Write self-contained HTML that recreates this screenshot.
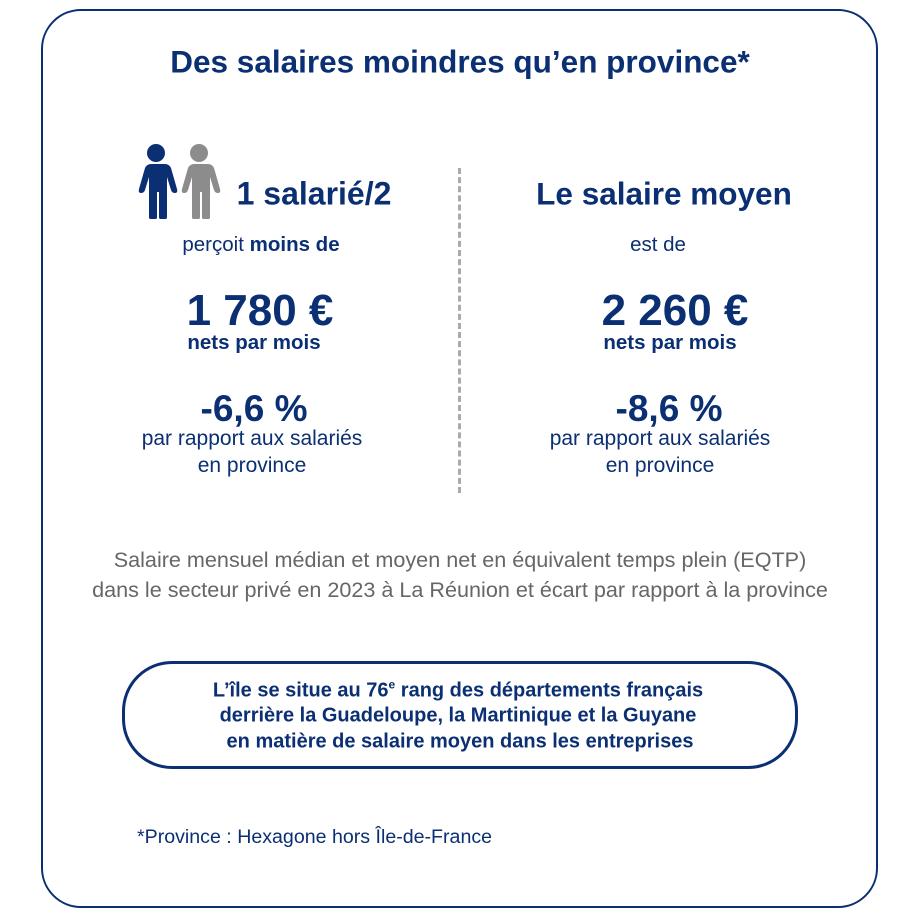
<!DOCTYPE html>
<html><head><meta charset="utf-8"><style>
body{margin:0;width:923px;height:909px;background:#fff;font-family:"Liberation Sans",sans-serif;color:#0b2f73;position:relative;overflow:hidden}
.box{position:absolute;left:41px;top:9px;width:837px;height:899px;border:2px solid #0b2f73;border-radius:40px;box-sizing:border-box}
.t{position:absolute;white-space:nowrap;transform:translate(-50%,-50%)}
.b{font-weight:bold}
.dash{position:absolute;left:458px;top:168px;height:325px;border-left:3px dashed #aaa}
.grey{color:#666}
.pill{position:absolute;left:122px;top:661px;width:676px;height:108px;border:3px solid #0b2f73;border-radius:50px;box-sizing:border-box}
</style></head><body>
<div class="box"></div>
<div class="t b" style="left:460px;top:62px;font-size:31.5px">Des salaires moindres qu’en province*</div>
<svg style="position:absolute;left:135px;top:143px" width="86" height="76" viewBox="0 0 86 76">
<g fill="#0b2f73"><circle cx="21" cy="10" r="9"/><path d="M12 21h18q4 0 6 4l6 21q1 4-2 4t-4-3l-4-13v40q0 3-4 3t-4-3V49h-2v25q0 3-4 3t-4-3V34l-4 13q-1 3-4 3t-2-4l6-21q2-4 6-4z"/></g>
<g fill="#8c8c8c" transform="translate(43,0)"><circle cx="21" cy="10" r="9"/><path d="M12 21h18q4 0 6 4l6 21q1 4-2 4t-4-3l-4-13v40q0 3-4 3t-4-3V49h-2v25q0 3-4 3t-4-3V34l-4 13q-1 3-4 3t-2-4l6-21q2-4 6-4z"/></g>
</svg>
<div class="t b" style="left:314px;top:194px;font-size:32px">1 salarié/2</div>
<div class="t" style="left:261px;top:245px;font-size:20.5px">perçoit <b>moins de</b></div>
<div class="t b" style="left:260px;top:311px;font-size:44px">1 780 €</div>
<div class="t b" style="left:254px;top:343px;font-size:20.5px">nets par mois</div>
<div class="t b" style="left:254px;top:409px;font-size:37px">-6,6 %</div>
<div class="t" style="left:252px;top:439px;font-size:21px">par rapport aux salariés</div>
<div class="t" style="left:252px;top:466px;font-size:21px">en province</div>
<div class="dash"></div>
<div class="t b" style="left:664px;top:194px;font-size:31.5px">Le salaire moyen</div>
<div class="t" style="left:658px;top:245px;font-size:20.5px">est de</div>
<div class="t b" style="left:675px;top:311px;font-size:44px">2 260 €</div>
<div class="t b" style="left:670px;top:343px;font-size:20.5px">nets par mois</div>
<div class="t b" style="left:669px;top:409px;font-size:37px">-8,6 %</div>
<div class="t" style="left:660px;top:439px;font-size:21px">par rapport aux salariés</div>
<div class="t" style="left:660px;top:466px;font-size:21px">en province</div>
<div class="t grey" style="left:460px;top:560px;font-size:21.6px">Salaire mensuel médian et moyen net en équivalent temps plein (EQTP)</div>
<div class="t grey" style="left:460px;top:590px;font-size:21.6px">dans le secteur privé en 2023 à La Réunion et écart par rapport à la province</div>
<div class="pill"></div>
<div class="t b" style="left:458px;top:690px;font-size:20px">L’île se situe au 76<sup style="font-size:12px">e</sup> rang des départements français</div>
<div class="t b" style="left:458px;top:716px;font-size:20px">derrière la Guadeloupe, la Martinique et la Guyane</div>
<div class="t b" style="left:460px;top:742px;font-size:20px">en matière de salaire moyen dans les entreprises</div>
<div style="position:absolute;left:137px;top:826px;font-size:19.6px;white-space:nowrap">*Province : Hexagone hors Île-de-France</div>
</body></html>
